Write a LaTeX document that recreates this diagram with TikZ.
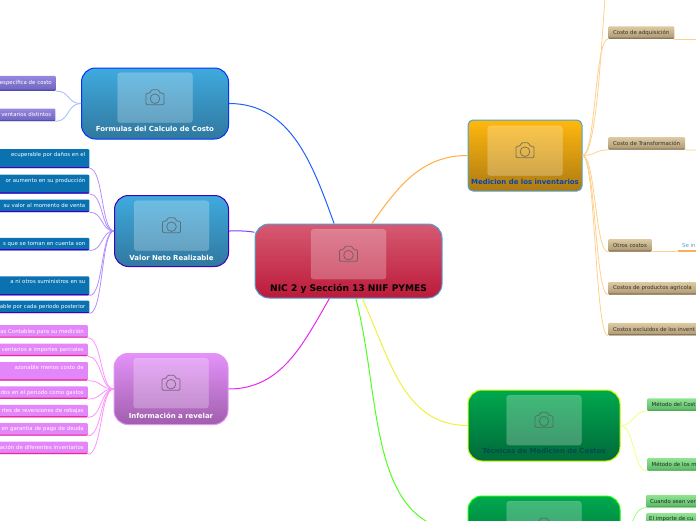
\documentclass[tikz,border=0pt]{standalone}
\usepackage{fontspec}
\setsansfont{DejaVu Sans}
\usepackage{tikz}
\usetikzlibrary{positioning}
\definecolor{hubred}{HTML}{D65A72}
\definecolor{hubredd}{HTML}{BC1A3A}
\definecolor{skyt}{HTML}{3FAADE}
\definecolor{skyb}{HTML}{30789F}
\definecolor{pinkt}{HTML}{E492FA}
\definecolor{pinkb}{HTML}{A05EAC}
\definecolor{ambert}{HTML}{FFB80E}
\definecolor{amberb}{HTML}{AE7A12}
\definecolor{greent}{HTML}{00A84E}
\definecolor{greenb}{HTML}{00693A}
\definecolor{edgeblue}{HTML}{4AA3D8}
\definecolor{linkorange}{HTML}{FFD08C}
\definecolor{linkviolet}{HTML}{B48CFF}
\definecolor{linkpink}{HTML}{FF90FF}
\definecolor{linkblue}{HTML}{A0BAFF}
\definecolor{linkyellow}{HTML}{F0FF80}
\definecolor{linkgreen}{HTML}{98FF78}
\definecolor{tant}{HTML}{DCCBA2}
\definecolor{tanb}{HTML}{AD9670}
\definecolor{leafblue}{HTML}{0A72B0}
\definecolor{leafpink}{HTML}{E286FA}
\definecolor{leafpurt}{HTML}{9488E0}
\definecolor{leafpurb}{HTML}{6E62BC}
\definecolor{leafgret}{HTML}{90E490}
\definecolor{leafgreb}{HTML}{58B868}
\definecolor{hubblue}{HTML}{2060FF}
\definecolor{hubviolet}{HTML}{8040FF}
\definecolor{hubpink}{HTML}{E828F0}
\definecolor{huborange}{HTML}{FFAE40}
\definecolor{hubyellow}{HTML}{F0F040}
\definecolor{hubgreen}{HTML}{50FF20}

\begin{document}
\begin{tikzpicture}[
        x=1pt, y=-1pt,
        hub/.style={rectangle, rounded corners=14pt, inner sep=0pt, line width=1pt, minimum height=71pt},
        panel/.style={rectangle, rounded corners=3pt, fill=white, fill opacity=.25, draw=white, draw opacity=.15, minimum width=75pt, minimum height=50pt},
        hubtitle/.style={inner sep=0pt, font=\sffamily\bfseries\fontsize{6.95}{9}\selectfont},
        camera/.pic={
            \draw[black!65, opacity=.75, line width=.75pt, rounded corners=1.2pt] (-9,7) -- (-9,-4.5) -- (-5,-4.5) -- (-3.5,-8) -- (3.5,-8) -- (5,-4.5) -- (9,-4.5) -- (9,7) -- cycle;
            \draw[black!65, opacity=.75, line width=.75pt] (0,1) circle (4.8);
        },
        leaf/.style={rectangle, rounded corners=1pt, inner ysep=0pt, inner xsep=4pt, minimum height=12.5pt, font=\sffamily\fontsize{5.4}{6.5}\selectfont, text=white,
            path picture={\fill[#1] ([yshift=1.2pt]path picture bounding box.south west) rectangle (path picture bounding box.south east);}},
        leftleaf/.style={leaf=#1, text width=130pt, align=right},
        purpleleaf/.style={leftleaf=blue!40!gray, top color=leafpurt, bottom color=leafpurb},
        blueleaf/.style={leftleaf=violet!50!blue, fill=leafblue},
        pinkleaf/.style={leftleaf=magenta!80!pink, fill=leafpink},
        costleaf/.style={leaf=tanb!80!black, inner xsep=5pt, top color=tant, bottom color=tanb, text=black!80},
        greenleaf/.style={leaf=green!35!gray, inner xsep=4.5pt, top color=leafgret, bottom color=leafgreb, text=black!85},
        link/.style={line width=.8pt},
        hublink/.style={line width=1pt}
    ]
        \useasboundingbox (0,0) rectangle (696,520);
        \clip (0,0) rectangle (696,520);

        % Hubs
        \node[hub, minimum width=187pt, minimum height=74pt, draw=edgeblue, top color=hubred, bottom color=hubredd] (nic) at (348.5,261) {};
        \node[hub, minimum width=147pt, draw=blue!80!cyan, top color=skyt, bottom color=skyb] (frm) at (155,103.5) {};
        \node[hub, minimum width=114pt, draw=violet!50!blue, top color=skyt, bottom color=skyb] (val) at (171.5,231) {};
        \node[hub, minimum width=114pt, draw=pinkt, top color=pinkt, bottom color=pinkb] (inf) at (171,389) {};
        \node[hub, minimum width=114pt, rounded corners=5pt, draw=edgeblue, top color=ambert, bottom color=amberb] (med) at (525,155.5) {};
        \node[hub, minimum width=152pt, draw=lime!90!yellow, top color=greent, bottom color=greenb] (tec) at (544,425.5) {};
        \node[hub, minimum width=152pt, draw=green!90!lime, top color=greent, bottom color=greenb] (fin) at (544,531.5) {};

        % Panels
        \node[panel, below=5.5pt of nic.north] (nic_img) {};
        \node[panel, below=5pt of frm.north] (frm_img) {};
        \node[panel, below=5.5pt of val.north] (val_img) {};
        \node[panel, below=5pt of inf.north] (inf_img) {};
        \node[panel, below=6pt of med.north] (med_img) {};
        \node[panel, below=5.5pt of tec.north] (tec_img) {};
        \node[panel, below=5.5pt of fin.north] (fin_img) {};
        \pic at (nic_img) {camera};
        \pic at (frm_img) {camera};
        \pic at (val_img) {camera};
        \pic at (inf_img) {camera};
        \pic at (med_img) {camera};
        \pic at (tec_img) {camera};
        \pic at (fin_img) {camera};

        % Titles
        \node[hubtitle, below=4.5pt of nic_img, text=black, font=\sffamily\bfseries\fontsize{9.1}{11}\selectfont] (nic_txt) {NIC 2 y Sección 13 NIIF PYMES};
        \node[hubtitle, below=3.5pt of frm_img, text=white] (frm_txt) {Formulas del Calculo de Costo};
        \node[hubtitle, below=4pt of val_img, text=white] (val_txt) {Valor Neto Realizable};
        \node[hubtitle, below=4pt of inf_img, text=white] (inf_txt) {Información a revelar};
        \node[hubtitle, below=3.5pt of med_img, text=blue!60!cyan!70!black] (med_txt) {Medicion de los inventarios};
        \node[hubtitle, below=2.5pt of tec_img, text=teal!60!black] (tec_txt) {Técnicas de Medicion de Costos};

        % Formulas leaves
        \node[purpleleaf, minimum height=15pt, anchor=south east] (f_esp) at (56,91) {específica de costo};
        \node[purpleleaf, anchor=north east] (f_inv) at (55.5,108.5) {ventarios distintos};

        % Valor Neto leaves
        \node[blueleaf, minimum height=19pt, anchor=north east] (v_dan) at (89.5,149) {ecuperable por daños en el\hspace{11pt}\\ \strut};
        \node[blueleaf, minimum height=19pt, below=6pt of v_dan] (v_pro) {or aumento en su producción\hspace{3pt}\\ \strut};
        \node[blueleaf, below=5.5pt of v_pro] (v_ven) {su valor al momento de venta};
        \node[blueleaf, below=25.5pt of v_ven] (v_cue) {s que se toman en cuenta son};
        \node[blueleaf, minimum height=19pt, below=25.5pt of v_cue] (v_sum) {a ni otros suministros en su\hspace{9pt}\\ \strut};
        \node[blueleaf, below=5pt of v_sum] (v_per) {able por cada periodo posterior};

        % Informacion leaves
        \node[pinkleaf, anchor=north east] (i_con) at (88,325) {as Contables para su medición};
        \node[pinkleaf, below=5.5pt of i_con] (i_par) {ventarios e importes parciales};
        \node[pinkleaf, minimum height=18.5pt, below=5.5pt of i_par] (i_raz) {azonable menos costo de\hspace{14pt}\\ \strut};
        \node[pinkleaf, below=5.5pt of i_raz] (i_gas) {dos en el periodo como gastos};
        \node[pinkleaf, below=5.5pt of i_gas] (i_reb) {rtes de reversiones de rebajas};
        \node[pinkleaf, below=5.5pt of i_reb] (i_deu) {en garantia de pago de deuda};
        \node[pinkleaf, below=5.5pt of i_deu] (i_dif) {ación de diferentes inventarios};

        % Medicion leaves
        \coordinate (c_top) at (606,-14);
        \node[costleaf, anchor=south west] (c_adq) at (608,39) {Costo de adquisición};
        \node[costleaf, below=98pt of c_adq.south west, anchor=north west] (c_tra) {Costo de Transformación};
        \node[costleaf, below=89pt of c_tra.south west, anchor=north west] (c_otr) {Otros costos};
        \node[costleaf, below=30pt of c_otr.south west, anchor=north west] (c_agr) {Costos de productos agricola};
        \node[costleaf, below=28pt of c_agr.south west, anchor=north west] (c_exc) {Costos excluidos de los invent};
        \node[leaf=orange, right=25pt of c_otr.south east, anchor=south west, inner xsep=5pt, text=edgeblue] (c_not) {Se in};
        \coordinate (c_adq_end) at (700,39);
        \coordinate (c_tra_end) at (700,150);

        % Tecnicas leaves
        \node[greenleaf, anchor=south west] (t_cos) at (647,411) {Método del Cost};
        \node[greenleaf, below=47pt of t_cos.south west, anchor=north west] (t_met) {Método de los m};

        % Last hub leaves
        \node[greenleaf, anchor=south west, inner xsep=4pt] (n_ven) at (646,507.5) {Cuando sean ver};
        \node[greenleaf, below=5.5pt of n_ven.south west, anchor=north west, inner xsep=3pt] (n_imp) {El importe de cu};

        % Hub connections
        \draw[hublink, hubblue] (frm.east) to[out=0, in=110] (nic.111);
        \draw[hublink, hubviolet] (val.east) to[out=0, in=170] (nic.163);
        \draw[hublink, hubpink] (inf.east) to[out=0, in=240] (nic.243);
        \draw[hublink, huborange] (nic.58) to[out=55, in=180] (med.west);
        \draw[hublink, hubyellow] (nic.290) to[out=-65, in=180] (tec.west);
        \draw[hublink, hubgreen] (nic.281) to[out=-75, in=180] (fin.west);

        % Leaf connections
        \draw[link, linkblue] (f_esp.south east) .. controls +(14,0) and +(-14,0) .. (frm.west);
        \draw[link, linkblue] (f_inv.south east) .. controls +(14,0) and +(-14,0) .. (frm.west);
        \draw[link, linkviolet] (v_dan.south east) .. controls +(14,0) and +(-13,0) .. (val.west);
        \draw[link, linkviolet] (v_pro.south east) .. controls +(14,0) and +(-13,0) .. (val.west);
        \draw[link, linkviolet] (v_ven.south east) .. controls +(14,0) and +(-13,0) .. (val.west);
        \draw[link, linkviolet] (v_cue.south east) .. controls +(14,0) and +(-13,0) .. (val.west);
        \draw[link, linkviolet] (v_sum.south east) .. controls +(14,0) and +(-13,0) .. (val.west);
        \draw[link, linkviolet] (v_per.south east) .. controls +(14,0) and +(-13,0) .. (val.west);
        \draw[link, linkpink] (i_con.south east) .. controls +(14,0) and +(-13,0) .. (inf.west);
        \draw[link, linkpink] (i_par.south east) .. controls +(14,0) and +(-13,0) .. (inf.west);
        \draw[link, linkpink] (i_raz.south east) .. controls +(14,0) and +(-13,0) .. (inf.west);
        \draw[link, linkpink] (i_gas.south east) .. controls +(14,0) and +(-13,0) .. (inf.west);
        \draw[link, linkpink] (i_reb.south east) .. controls +(14,0) and +(-13,0) .. (inf.west);
        \draw[link, linkpink] (i_deu.south east) .. controls +(14,0) and +(-13,0) .. (inf.west);
        \draw[link, linkpink] (i_dif.south east) .. controls +(14,0) and +(-13,0) .. (inf.west);
        \draw[link, linkorange] (med.east) .. controls +(14,0) and +(-5,60) .. (c_top);
        \draw[link, linkorange] (med.east) .. controls +(13,0) and +(-13,0) .. (c_adq.south west);
        \draw[link, linkorange] (med.east) .. controls +(13,0) and +(-13,0) .. (c_tra.south west);
        \draw[link, linkorange] (med.east) .. controls +(13,0) and +(-13,0) .. (c_otr.south west);
        \draw[link, linkorange] (med.east) .. controls +(13,0) and +(-13,0) .. (c_agr.south west);
        \draw[link, linkorange] (med.east) .. controls +(13,0) and +(-13,0) .. (c_exc.south west);
        \draw[link, linkorange] (c_adq.south east) -- (c_adq_end);
        \draw[link, linkorange] (c_tra.south east) -- (c_tra_end);
        \draw[link, linkorange] (c_otr.south east) -- (c_not.south west);
        \draw[link, linkyellow] (tec.east) .. controls +(14,0) and +(-14,0) .. (t_cos.south west);
        \draw[link, linkyellow] (tec.east) .. controls +(14,0) and +(-14,0) .. (t_met.south west);
        \draw[link, linkgreen] (fin.east) .. controls +(14,0) and +(-14,0) .. (n_ven.south west);
        \draw[link, linkgreen] (fin.east) .. controls +(14,0) and +(-14,0) .. (n_imp.south west);
    \end{tikzpicture}
\end{document}
